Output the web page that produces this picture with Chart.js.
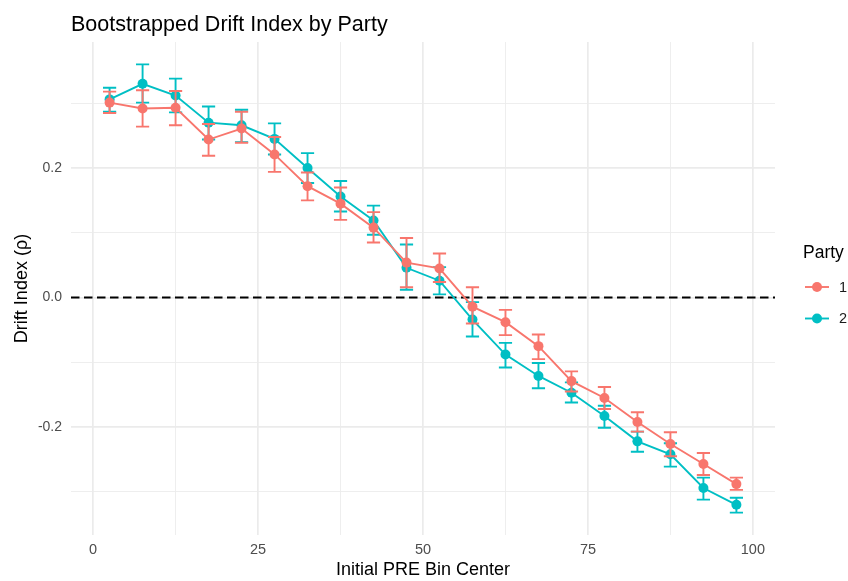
<!DOCTYPE html>
<html>
<head>
<meta charset="utf-8">
<title>Bootstrapped Drift Index by Party</title>
<script src="https://cdn.jsdelivr.net/npm/chart.js@4.4.1/dist/chart.umd.min.js"></script>
<style>
  html, body { margin: 0; padding: 0; background: #ffffff; }
  #wrap { width: 848px; height: 581px; }
</style>
</head>
<body>
<div id="wrap"><canvas id="driftChart" width="848" height="581"></canvas></div>
<script>
// bin centers of the initial PRE score
const binCenters = [2.5, 7.5, 12.5, 17.5, 22.5, 27.5, 32.5, 37.5, 42.5, 47.5,
                    52.5, 57.5, 62.5, 67.5, 72.5, 77.5, 82.5, 87.5, 92.5, 97.5];

// party 1: bootstrapped mean and interval
const party1Drift = [0.301, 0.292, 0.293, 0.244, 0.261, 0.221, 0.172, 0.145, 0.108, 0.054,
                     0.045, -0.014, -0.038, -0.075, -0.129, -0.155, -0.192, -0.226, -0.257, -0.288];
const party1Low   = [0.285, 0.264, 0.266, 0.219, 0.239, 0.194, 0.150, 0.120, 0.085, 0.016,
                     0.024, -0.040, -0.058, -0.095, -0.145, -0.172, -0.207, -0.245, -0.274, -0.297];
const party1High  = [0.318, 0.320, 0.319, 0.268, 0.287, 0.248, 0.193, 0.170, 0.132, 0.092,
                     0.068, 0.016, -0.019, -0.057, -0.114, -0.138, -0.177, -0.208, -0.240, -0.278];

// party 2: bootstrapped mean and interval
const party2Drift = [0.306, 0.330, 0.312, 0.270, 0.266, 0.245, 0.200, 0.156, 0.119, 0.046,
                     0.026, -0.034, -0.088, -0.121, -0.147, -0.183, -0.222, -0.242, -0.294, -0.320];
const party2Low   = [0.287, 0.301, 0.286, 0.244, 0.240, 0.221, 0.177, 0.133, 0.097, 0.012,
                     0.005, -0.060, -0.108, -0.140, -0.162, -0.201, -0.238, -0.261, -0.312, -0.332];
const party2High  = [0.324, 0.360, 0.338, 0.295, 0.290, 0.269, 0.223, 0.180, 0.142, 0.082,
                     0.047, -0.007, -0.070, -0.101, -0.131, -0.167, -0.207, -0.225, -0.278, -0.309];

const partyNames  = ['1', '2'];
const partyColors = ['#F8766D', '#00BFC4'];

// axis ticks (major ones get labels, the in-between ones are minor grid only)
const xTicks = [0, 12.5, 25, 37.5, 50, 62.5, 75, 87.5, 100];
const xMajor = [0, 25, 50, 75, 100];
const yTicks = [-0.3, -0.2, -0.1, 0.0, 0.1, 0.2, 0.3];
const yMajor = [-0.2, 0.0, 0.2];

const FONT = '"Liberation Sans", Arial, Helvetica, sans-serif';

// error bar width in x units, and 5% padding around the data
const barWidth = 2;
const xMin = -3.35, xMax = 103.35;
const yMin = -0.3666, yMax = 0.3946;

const toPoints = ys => binCenters.map((x, i) => ({ x: x, y: ys[i] }));
const isMajor = (list, v) => list.some(m => Math.abs(m - v) < 1e-9);

const errorBars = [
  { low: party1Low, high: party1High },
  { low: party2Low, high: party2High }
];

// vertical whiskers with caps, drawn right after each party's line
const errorBarPlugin = {
  id: 'errorBars',
  afterDatasetDraw(chart, args) {
    const bars = errorBars[args.index];
    if (!bars) return;
    const { ctx, chartArea } = chart;
    const xs = chart.scales.x, ys = chart.scales.y;
    ctx.save();
    ctx.beginPath();
    ctx.rect(chartArea.left, chartArea.top, chartArea.width, chartArea.height);
    ctx.clip();
    ctx.strokeStyle = partyColors[args.index];
    ctx.lineWidth = 1.9;
    binCenters.forEach((x, i) => {
      const px = xs.getPixelForValue(x);
      const l = xs.getPixelForValue(x - barWidth / 2);
      const r = xs.getPixelForValue(x + barWidth / 2);
      const top = ys.getPixelForValue(bars.high[i]);
      const bot = ys.getPixelForValue(bars.low[i]);
      ctx.beginPath();
      ctx.moveTo(px, top); ctx.lineTo(px, bot);
      ctx.moveTo(l, top); ctx.lineTo(r, top);
      ctx.moveTo(l, bot); ctx.lineTo(r, bot);
      ctx.stroke();
    });
    ctx.restore();
  }
};

// plot title and the "Party" legend
const decorPlugin = {
  id: 'decor',
  afterDraw(chart) {
    const { ctx } = chart;
    ctx.save();
    ctx.fillStyle = '#000000';
    ctx.textAlign = 'left';
    ctx.textBaseline = 'alphabetic';
    ctx.font = '21.5px ' + FONT;
    ctx.fillText('Bootstrapped Drift Index by Party', 71, 30.5);

    ctx.textBaseline = 'middle';
    ctx.font = '17.5px ' + FONT;
    ctx.fillText('Party', 803, 253);

    partyNames.forEach((name, i) => {
      const cy = 287 + i * 31.5;
      ctx.strokeStyle = partyColors[i];
      ctx.lineWidth = 1.9;
      ctx.beginPath();
      ctx.moveTo(805, cy); ctx.lineTo(829, cy);
      ctx.stroke();
      ctx.fillStyle = partyColors[i];
      ctx.beginPath();
      ctx.arc(817, cy, 5, 0, Math.PI * 2);
      ctx.fill();
      ctx.fillStyle = '#1a1a1a';
      ctx.font = '14.5px ' + FONT;
      ctx.fillText(name, 839, cy + 0.5);
    });
    ctx.restore();
  }
};

const lineDataset = (i, ys) => ({
  label: partyNames[i],
  data: toPoints(ys),
  borderColor: partyColors[i],
  backgroundColor: partyColors[i],
  borderWidth: 1.9,
  pointRadius: 5,
  pointHoverRadius: 5,
  pointBorderWidth: 0,
  tension: 0
});

new Chart(document.getElementById('driftChart'), {
  type: 'line',
  data: {
    datasets: [
      lineDataset(0, party1Drift),
      lineDataset(1, party2Drift),
      {
        label: 'zero',
        data: [{ x: xMin, y: 0 }, { x: xMax, y: 0 }],
        borderColor: '#000000',
        borderWidth: 1.9,
        borderDash: [8.5, 4.5],
        pointRadius: 0,
        pointHoverRadius: 0
      }
    ]
  },
  options: {
    responsive: false,
    animation: false,
    events: [],
    layout: { padding: { top: 42, right: 73, bottom: 0, left: 0 } },
    plugins: {
      legend: { display: false },
      title: { display: false },
      tooltip: { enabled: false }
    },
    scales: {
      x: {
        type: 'linear',
        min: xMin,
        max: xMax,
        afterBuildTicks: s => { s.ticks = xTicks.map(v => ({ value: v })); },
        afterFit: s => { s.height = 46; },
        border: { display: false },
        grid: {
          drawTicks: false,
          color: '#EBEBEB',
          lineWidth: c => (c.tick && isMajor(xMajor, c.tick.value)) ? 1.7 : 0.85
        },
        ticks: {
          autoSkip: false,
          maxRotation: 0,
          padding: 6.5,
          color: '#4D4D4D',
          font: { family: FONT, size: 14.5 },
          callback: v => isMajor(xMajor, v) ? String(v) : ''
        },
        title: {
          display: true,
          text: 'Initial PRE Bin Center',
          color: '#000000',
          font: { family: FONT, size: 18 },
          padding: { top: 0, bottom: 0 }
        }
      },
      y: {
        type: 'linear',
        min: yMin,
        max: yMax,
        afterBuildTicks: s => { s.ticks = yTicks.map(v => ({ value: v })); },
        afterFit: s => { s.width = 71; },
        border: { display: false },
        grid: {
          drawTicks: false,
          color: '#EBEBEB',
          lineWidth: c => (c.tick && isMajor(yMajor, c.tick.value)) ? 1.7 : 0.85
        },
        ticks: {
          autoSkip: false,
          padding: 9,
          color: '#4D4D4D',
          font: { family: FONT, size: 14 },
          callback: v => isMajor(yMajor, v) ? v.toFixed(1) : ''
        },
        title: {
          display: true,
          text: 'Drift Index (ρ)',
          color: '#000000',
          font: { family: FONT, size: 18 },
          padding: { top: 11, bottom: 0 }
        }
      }
    }
  },
  plugins: [errorBarPlugin, decorPlugin]
});
</script>
</body>
</html>
